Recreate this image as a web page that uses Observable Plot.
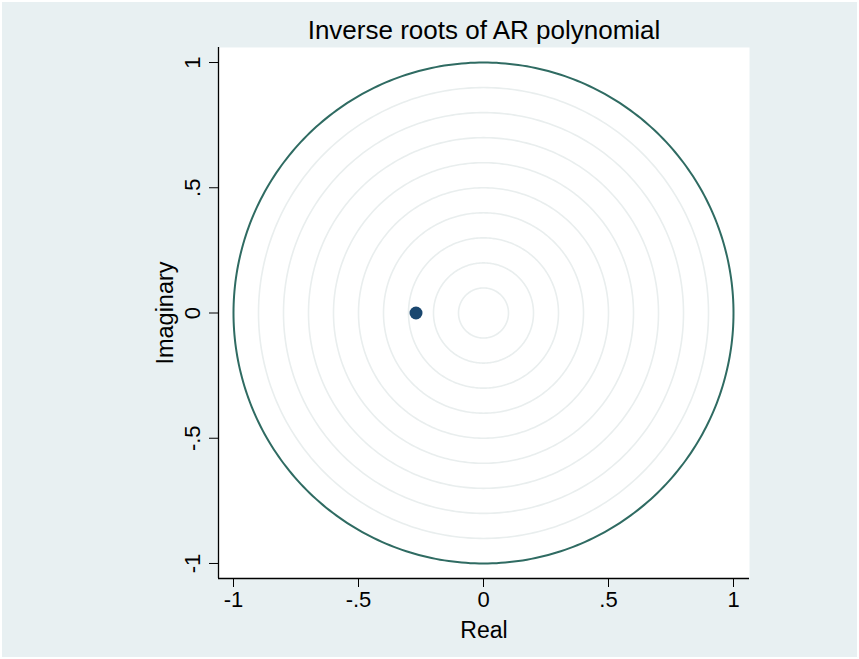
<!DOCTYPE html>
<html>
<head>
<meta charset="utf-8">
<script src="https://cdn.jsdelivr.net/npm/d3@7"></script>
<script src="https://cdn.jsdelivr.net/npm/@observablehq/plot@0.6"></script>
<style>
  html, body { margin: 0; padding: 0; background: #ffffff; }
  #chart { width: 855px; height: 655px; border: 2px solid #ffffff; }
  svg { display: block; }
</style>
</head>
<body>
<div id="chart"></div>
<script>
// ---- data ----
const title = "Inverse roots of AR polynomial";
const xLabel = "Real";
const yLabel = "Imaginary";
const rootReal = [-0.27];
const rootImag = [0];
const gridRadii = [0.1, 0.2, 0.3, 0.4, 0.5, 0.6, 0.7, 0.8, 0.9];
const unitRadius = [1];
const tickValues = [-1, -0.5, 0, 0.5, 1];
const tickLabels = ["-1", "-.5", "0", ".5", "1"];

// ---- derived tables ----
const roots = rootReal.map((re, i) => ({re, im: rootImag[i]}));
const ticks = tickValues.map((v, i) => ({v, label: tickLabels[i]}));
function ring(r) {
  const pts = [];
  for (let k = 0; k <= 360; k++) {
    const a = k * Math.PI / 180;
    pts.push({x: r * Math.cos(a), y: r * Math.sin(a), r});
  }
  return pts;
}
const gridPts = gridRadii.flatMap(ring);
const unitPts = unitRadius.flatMap(ring);

const font = "Liberation Sans, Arial, sans-serif";
const W = 855, H = 655;
const mL = 216, mR = 108, mT = 45, mB = 79;

const plot = Plot.plot({
  width: W,
  height: H,
  marginLeft: mL,
  marginRight: mR,
  marginTop: mT,
  marginBottom: mB,
  style: {background: "#e8f0f2", fontFamily: font, color: "#000"},
  x: {domain: [-1.06, 1.064], axis: null},
  y: {domain: [-1.06, 1.06], axis: null},
  marks: [
    Plot.frame({fill: "#ffffff", stroke: null}),
    Plot.line(gridPts, {x: "x", y: "y", z: "r", stroke: "#e9eeee", strokeWidth: 1.6}),
    Plot.line(unitPts, {x: "x", y: "y", z: "r", stroke: "#2f6b62", strokeWidth: 2}),
    Plot.dot(roots, {x: "re", y: "im", r: 6.5, fill: "#1a476f", stroke: null}),
    // axis lines
    Plot.ruleY([-1.06], {stroke: "#000", strokeWidth: 1.3}),
    Plot.ruleX([-1.06], {stroke: "#000", strokeWidth: 1.3}),
    // x ticks and labels
    Plot.axisX(tickValues, {tickSize: 9, tickPadding: 4, tickFormat: (d, i) => tickLabels[i], fontSize: 22, label: null, stroke: "#000"}),
    // y ticks
    Plot.axisY(tickValues, {tickSize: 9, text: null, label: null, stroke: "#000"}),
    Plot.text(ticks, {y: "v", text: "label", frameAnchor: "left", dx: -26, rotate: -90,
      textAnchor: "middle", lineAnchor: "middle", fontSize: 22, fill: "#000"}),
    // axis titles
    Plot.text([xLabel], {frameAnchor: "bottom", dy: 52, fontSize: 23, fill: "#000", lineAnchor: "middle"}),
    Plot.text([yLabel], {frameAnchor: "left", dx: -53, rotate: -90, fontSize: 23.5, fill: "#000", textAnchor: "middle", lineAnchor: "middle"}),
    // title
    Plot.text([title], {frameAnchor: "top", dy: -17, fontSize: 26, fill: "#000", lineAnchor: "middle"})
  ]
});
document.getElementById("chart").appendChild(plot);
</script>
</body>
</html>
